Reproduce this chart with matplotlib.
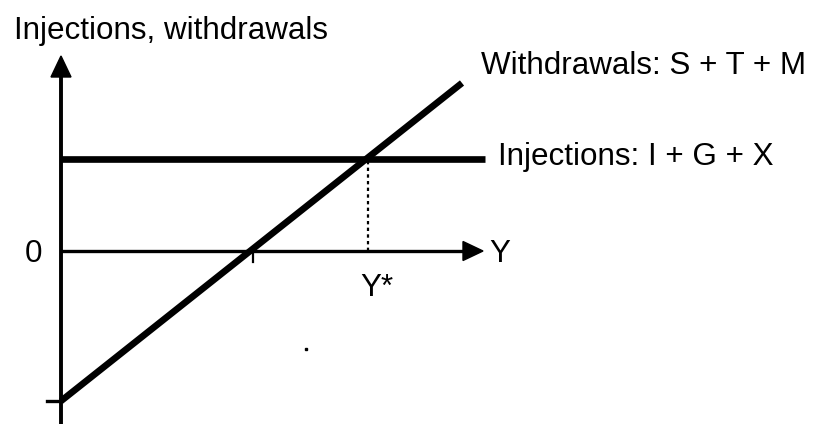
import matplotlib
matplotlib.use("Agg")
import matplotlib.pyplot as plt
from matplotlib.patches import Polygon

plt.rcParams['font.family'] = ['Liberation Sans', 'DejaVu Sans']

# Data (units relative to the origin of the diagram)
withdrawals_x = [0, 401]
withdrawals_y = [-150, 168]
injections_x = [0, 424]
injections_level = 92
y_star = 307
y_tick = 189
lower_tick = -150
dot = (245, -98)

fig = plt.figure(figsize=(8.16, 4.27), dpi=100)
ax = fig.add_axes([0, 0, 1, 1])
ax.set_xlim(-61, 755)
ax.set_ylim(-175, 252)
ax.axis('off')

# axes
ax.plot([0, 0], [-173, 180], color='black', lw=2.8, solid_capstyle='butt')
ax.add_patch(Polygon([[-10, 174], [10, 174], [0, 195]], closed=True, color='black'))
ax.plot([0, 405], [0, 0], color='black', lw=2.4, solid_capstyle='butt')
ax.add_patch(Polygon([[402, 9.5], [402, -9.5], [422, 0]], closed=True, color='black'))

# ticks
ax.plot([y_tick + 3, y_tick + 3], [0, -11], color='black', lw=1.6)
ax.plot([-14, 0], [lower_tick, lower_tick], color='black', lw=2.4)

# lines
ax.plot(injections_x, [injections_level, injections_level], color='black', lw=4.8, solid_capstyle='butt')
ax.plot(withdrawals_x, withdrawals_y, color='black', lw=4.8, solid_capstyle='butt')
ax.plot([y_star, y_star], [0, injections_level], color='black', lw=1.6, ls=(0, (1.5, 1.5)))
ax.plot([dot[0]], [dot[1]], marker='s', ms=2, color='black')

# text
fs = 22.6
ax.text(-47, 221, 'Injections, withdrawals', fontsize=fs, va='center', ha='left')
ax.text(420, 185.5, 'Withdrawals: S + T + M', fontsize=fs, va='center', ha='left')
ax.text(437, 94.5, 'Injections: I + G + X', fontsize=fs, va='center', ha='left')
ax.text(428, -1.5, 'Y', fontsize=fs, va='center', ha='left')
ax.text(-27.5, -2.5, '0', fontsize=fs, va='center', ha='center')
ax.text(y_star + 9, -35.5, 'Y*', fontsize=fs, va='center', ha='center')

fig.savefig('out.png', dpi=100)
